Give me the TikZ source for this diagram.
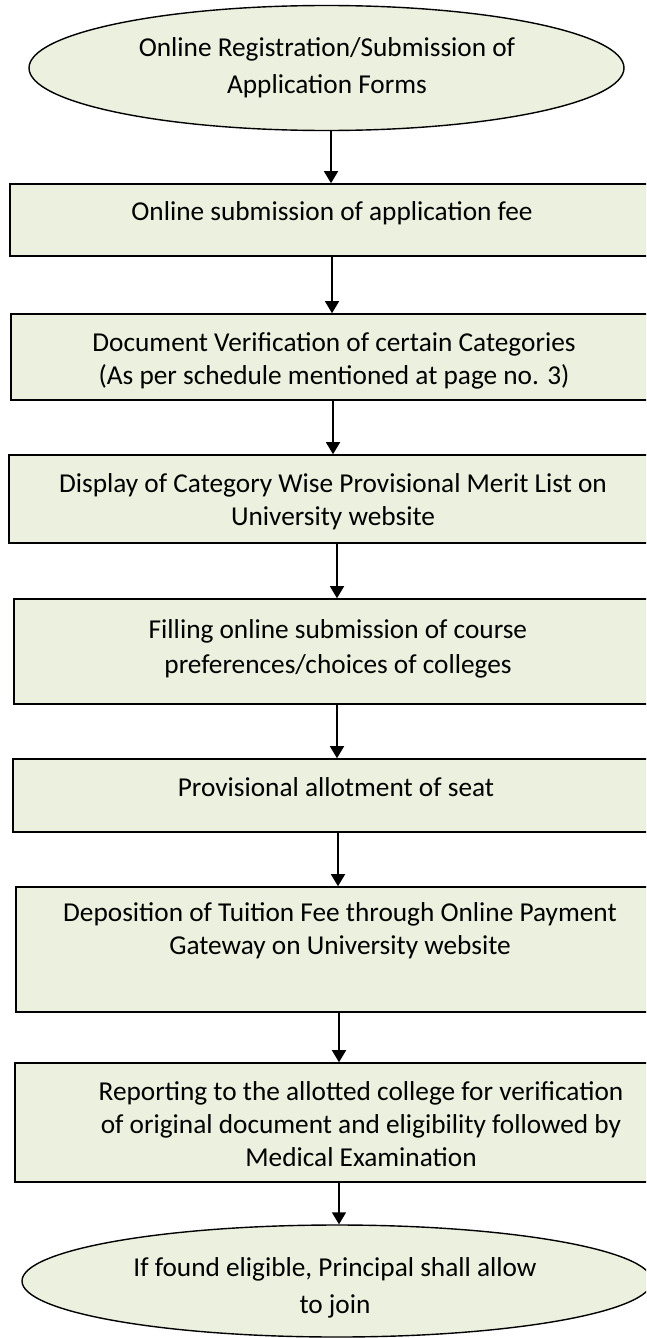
\documentclass[tikz,border=0pt]{standalone}
\usepackage{fontspec}
\setmainfont{Carlito}
\usetikzlibrary{shapes.geometric,arrows.meta}
\definecolor{boxfill}{HTML}{EBF1DE}
\begin{document}
\begin{tikzpicture}[x=1pt,y=-1pt,
  stepbox/.style={draw=black, line width=1.6pt, fill=boxfill, rectangle, inner sep=0pt},
  oval/.style={draw=black, line width=1.4pt, fill=boxfill, ellipse, inner sep=0pt},
  txt/.style={align=center, inner sep=0pt, font=\fontsize{27.3}{33}\selectfont},
  txtw/.style={align=center, inner sep=0pt, font=\fontsize{27.3}{37}\selectfont},
  arr/.style={line width=1.4pt, -{Triangle[length=12pt,width=14pt]}}]
\useasboundingbox (0,0) rectangle (646,1338);
\clip (0,0) rectangle (646,1338);
% shapes
\node[oval, minimum width=595pt, minimum height=125pt] (e1) at (326.5,68) {};
\node[stepbox, minimum width=642pt, minimum height=72pt]  (b1) at (331,220) {};
\node[stepbox, minimum width=641pt, minimum height=86pt]  (b2) at (331.5,357) {};
\node[stepbox, minimum width=643pt, minimum height=88pt]  (b3) at (330.5,499) {};
\node[stepbox, minimum width=638pt, minimum height=105pt] (b4) at (333,651.5) {};
\node[stepbox, minimum width=639pt, minimum height=73pt]  (b5) at (332.5,795.5) {};
\node[stepbox, minimum width=636pt, minimum height=125pt] (b6) at (334,949.5) {};
\node[stepbox, minimum width=637pt, minimum height=119pt] (b7) at (333.5,1122.5) {};
\node[oval, minimum width=630pt, minimum height=112pt] (e2) at (337,1281) {};
% texts
\node[txtw] (te1) at (327,68) {\strut Online Registration/Submission of\\\strut Application Forms};
\node[txt] (tb1) at (332,213.4) {\strut Online submission of application fee};
\node[txt] (tb2) at (334,360.9) {\strut Document Verification of certain Categories\\\strut (As per schedule mentioned at page no. 3)};
\node[txt] (tb3) at (333,501.9) {\strut Display of Category Wise Provisional Merit List on\\\strut University website};
\node[align=center, inner sep=0pt, font=\fontsize{27.3}{35}\selectfont] (tb4) at (338,648.5) {\strut Filling online submission of course\\\strut preferences/choices of colleges};
\node[txt] (tb5) at (336,789.4) {\strut Provisional allotment of seat};
\node[txt] (tb6) at (340,930.9) {\strut Deposition of Tuition Fee through Online Payment\\\strut Gateway on University website};
\node[txt] (tb7) at (361,1126.8) {\strut Reporting to the allotted college for verification\\\strut of original document and eligibility followed by\\\strut Medical Examination};
\node[txtw] (te2) at (335,1288) {\strut If found eligible, Principal shall allow\\\strut to join};
% connectors
\draw[arr] ([xshift=4.5pt]e1.south) -- (b1.north);
\draw[arr] ([xshift=1pt]b1.south) -- ([xshift=0.5pt]b2.north);
\draw[arr] ([xshift=1.5pt]b2.south) -- ([xshift=2.5pt]b3.north);
\draw[arr] ([xshift=6.5pt]b3.south) -- ([xshift=4pt]b4.north);
\draw[arr] ([xshift=4pt]b4.south) -- ([xshift=4.5pt]b5.north);
\draw[arr] ([xshift=5.5pt]b5.south) -- ([xshift=4pt]b6.north);
\draw[arr] ([xshift=5pt]b6.south) -- ([xshift=5.5pt]b7.north);
\draw[arr] ([xshift=5.5pt]b7.south) -- ([xshift=2pt]e2.north);
\end{tikzpicture}
\end{document}
